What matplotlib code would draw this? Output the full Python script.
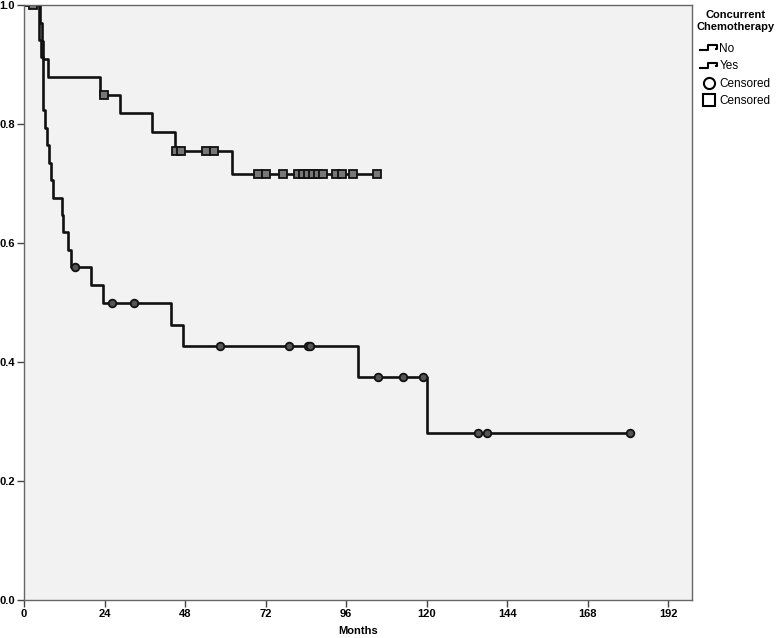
import matplotlib
matplotlib.use('Agg')
import matplotlib.pyplot as plt
from matplotlib.lines import Line2D
from matplotlib.legend_handler import HandlerBase
import numpy as np

# Kaplan-Meier steps (months, survival)
no_times = [0, 4.3, 4.5, 5.0, 5.5, 5.6, 5.7, 6.2, 6.7, 7.5, 7.9, 8.7, 11.2, 11.7, 13.0, 13.9, 19.8, 23.6, 43.9, 47.4, 99.4, 120.2, 180.6]
no_surv = [1.0, 0.971, 0.941, 0.912, 0.882, 0.853, 0.824, 0.794, 0.765, 0.735, 0.706, 0.676, 0.647, 0.618, 0.588, 0.559, 0.529, 0.499, 0.4625, 0.426, 0.374, 0.281, 0.281]
no_cens_t = [15.2, 26.2, 32.7, 58.5, 79.0, 84.5, 85.2, 105.5, 113.0, 118.8, 135.2, 138.0, 180.6]

yes_times = [0, 4.6, 5.3, 5.7, 7.2, 22.6, 28.5, 38.2, 45.1, 61.9, 105.1]
yes_surv = [1.0, 0.970, 0.939, 0.909, 0.879, 0.848, 0.818, 0.786, 0.755, 0.716, 0.716]
yes_cens_t = [2.7, 23.8, 45.4, 46.9, 54.1, 56.5, 69.7, 72.2, 77.1, 81.5, 83.0, 84.5, 86.0, 87.5, 89.0, 92.9, 94.9, 97.9, 105.1]

x_ticks = [0, 24, 48, 72, 96, 120, 144, 168, 192]
y_ticks = [0.0, 0.2, 0.4, 0.6, 0.8, 1.0]

plt.rcParams['font.family'] = ['Liberation Sans', 'DejaVu Sans']

def surv_at(times, surv, t):
    i = np.searchsorted(times, t, side='right') - 1
    return surv[i]

# little step glyph for the legend, like SPSS draws it
class StepHandler(HandlerBase):
    def create_artists(self, legend, orig, xd, yd, w, h, fontsize, trans):
        xs = [xd, xd + w*0.45, xd + w*0.45, xd + w, xd + w, xd + w*0.95]
        ys = [yd + h*0.2, yd + h*0.2, yd + h*0.8, yd + h*0.8, yd + h*0.4, yd + h*0.4]
        ln = Line2D(xs, ys, color='black', lw=1.5, transform=trans)
        return [ln]

fig = plt.figure(figsize=(7.78, 6.38), dpi=100)
ax = fig.add_axes([0.031, 0.06, 0.858, 0.932])
ax.set_facecolor('#f2f2f2')

ax.step(no_times, no_surv, where='post', color='#111111', lw=1.9)
ax.step(yes_times, yes_surv, where='post', color='#111111', lw=1.9)

no_cens_s = [surv_at(no_times, no_surv, t) for t in no_cens_t]
yes_cens_s = [surv_at(yes_times, yes_surv, t) for t in yes_cens_t]
ax.plot(no_cens_t, no_cens_s, 'o', ms=5.5, mfc='#555555', mec='#111111', mew=1.3, ls='none')
ax.plot(yes_cens_t, yes_cens_s, 's', ms=5.5, mfc='#777777', mec='#111111', mew=1.3, ls='none')

ax.set_xlim(0, 199)
ax.set_ylim(0, 1.0)
ax.set_xticks(x_ticks)
ax.set_yticks(y_ticks)
ax.set_yticklabels(['%.1f' % v for v in y_ticks])
ax.tick_params(direction='out', length=5, width=1, colors='#444444', labelcolor='black', labelsize=8, pad=1.5)
for lab in ax.get_xticklabels() + ax.get_yticklabels():
    lab.set_fontweight('bold')
for s in ax.spines.values():
    s.set_color('#666666')
    s.set_linewidth(1.0)
ax.set_xlabel('Months', fontsize=8, fontweight='bold', labelpad=5)

h_no = Line2D([], [], color='black')
h_yes = Line2D([], [], color='black')
handles = [h_no, h_yes,
           Line2D([], [], marker='o', ls='none', mfc='white', mec='black', mew=1.5, ms=8),
           Line2D([], [], marker='s', ls='none', mfc='white', mec='black', mew=1.5, ms=8)]
leg = fig.legend(handles, ['No', 'Yes', 'Censored', 'Censored'],
                 title='Concurrent\nChemotherapy', loc='upper left',
                 bbox_to_anchor=(0.895, 0.985), frameon=False, fontsize=8.5,
                 title_fontsize=8, handlelength=1.4, handletextpad=0.2,
                 labelspacing=0.45, borderaxespad=0, borderpad=0,
                 handler_map={h_no: StepHandler(), h_yes: StepHandler()})
leg.get_title().set_fontweight('bold')
leg.get_title().set_linespacing(1.3)
leg.get_title().set_multialignment('center')
leg._legend_box.sep = 8

fig.savefig('out.png', dpi=100)
